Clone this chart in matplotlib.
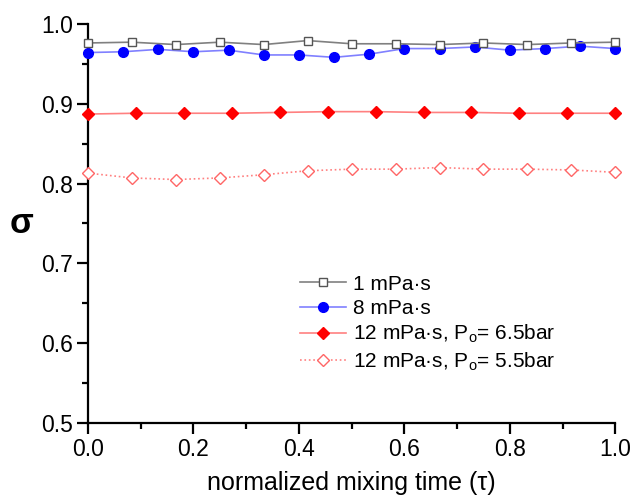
import numpy as np
import matplotlib
matplotlib.use("Agg")
import matplotlib.pyplot as plt
from matplotlib.ticker import MultipleLocator

plt.rcParams['font.family'] = ['Liberation Sans', 'DejaVu Sans']
plt.rcParams['mathtext.fontset'] = 'custom'
plt.rcParams['mathtext.rm'] = 'Liberation Sans'
plt.rcParams['mathtext.it'] = 'Liberation Sans:italic'

# Data
x1 = np.linspace(0, 1, 13)
y1 = [0.976, 0.977, 0.974, 0.977, 0.974, 0.979, 0.975, 0.975, 0.974, 0.976, 0.974, 0.976, 0.977]

x8 = np.linspace(0, 1, 16)
y8 = [0.964, 0.965, 0.968, 0.965, 0.967, 0.961, 0.961, 0.958, 0.962, 0.969,
      0.969, 0.971, 0.967, 0.969, 0.972, 0.969]

x12a = np.linspace(0, 1, 12)
y12a = [0.887, 0.888, 0.888, 0.888, 0.889, 0.890, 0.890, 0.889, 0.889, 0.888, 0.888, 0.888]

x12b = np.linspace(0, 1, 13)
y12b = [0.813, 0.807, 0.805, 0.807, 0.811, 0.816, 0.818, 0.818, 0.820, 0.818, 0.818, 0.817, 0.814]

labels = ["1 mPa·s", "8 mPa·s",
          "12 mPa·s, P$_\\mathregular{o}$= 6.5bar",
          "12 mPa·s, P$_\\mathregular{o}$= 5.5bar"]

fig = plt.figure(figsize=(6.33, 4.96), dpi=100)
ax = fig.add_axes([0.139, 0.147, 0.833, 0.805])

ax.plot(x1, y1, '-', color='#808080', lw=1.2, marker='s', ms=5.5,
        mfc='white', mec='#555555', mew=1.0, label=labels[0], clip_on=False, zorder=4)
ax.plot(x8, y8, '-', color='#8080ff', lw=1.2, marker='o', ms=7,
        mfc='#0000ff', mec='#0000ff', label=labels[1], clip_on=False, zorder=3)
ax.plot(x12a, y12a, '-', color='#ff8080', lw=1.2, marker='D', ms=6,
        mfc='#ff0000', mec='#ff0000', label=labels[2], clip_on=False, zorder=3)
ax.plot(x12b, y12b, ':', color='#ff8080', lw=1.2, marker='D', ms=6.5,
        mfc='white', mec='#ff6666', mew=1.0, label=labels[3], clip_on=False, zorder=3)

ax.set_xlim(0, 1.0)
ax.set_ylim(0.5, 1.0)
ax.xaxis.set_minor_locator(MultipleLocator(0.1))
ax.yaxis.set_minor_locator(MultipleLocator(0.05))
ax.set_xticks([0, 0.2, 0.4, 0.6, 0.8, 1.0])
ax.set_xticklabels(["0.0", "0.2", "0.4", "0.6", "0.8", "1.0"])
ax.set_yticks([0.5, 0.6, 0.7, 0.8, 0.9, 1.0])
ax.set_yticklabels(["0.5", "0.6", "0.7", "0.8", "0.9", "1.0"])

for s in ['top', 'right']:
    ax.spines[s].set_visible(False)
for s in ['left', 'bottom']:
    ax.spines[s].set_linewidth(1.6)

ax.tick_params(which='major', direction='out', length=8, width=1.6, labelsize=16.5, pad=3)
ax.tick_params(which='minor', direction='out', length=4.5, width=1.6)

ax.set_xlabel("normalized mixing time (τ)", fontsize=18, labelpad=7)
ax.set_ylabel("σ", fontsize=25, fontweight='bold', rotation=0, labelpad=14, va='center')

leg = ax.legend(loc='lower left', bbox_to_anchor=(0.386, 0.105), frameon=False,
                fontsize=15, handlelength=2.2, handletextpad=0.35, labelspacing=0.25,
                borderaxespad=0)

fig.savefig("out.png", dpi=100)
